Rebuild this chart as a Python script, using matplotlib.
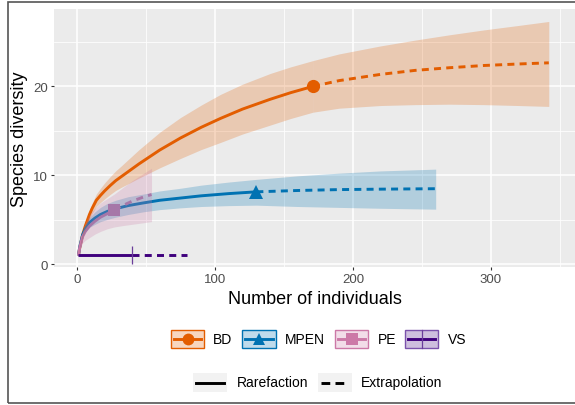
import matplotlib
matplotlib.use("Agg")
import matplotlib.pyplot as plt
from matplotlib.patches import Rectangle
from matplotlib.lines import Line2D

plt.rcParams['font.family'] = ['Liberation Sans', 'DejaVu Sans']

W, H = 575, 406

# ---------------- data ----------------
sites = ["BD", "MPEN", "PE", "VS"]
colors = ["#E35D00", "#0072B2", "#CC79A7", "#3F007D"]
markers = ["o", "^", "s", "|"]

# BD
bd_rare_n = [1, 2, 4, 6, 9, 11, 14, 17, 20, 24, 28, 32, 45, 60, 75, 90, 104, 120, 140, 155, 171]
bd_rare_s = [1, 1.9, 3.3, 4.3, 5.6, 6.3, 7.2, 7.75, 8.25, 8.85, 9.4, 9.85, 11.3, 12.85, 14.2, 15.4, 16.4, 17.45, 18.55, 19.3, 20.0]
bd_rare_lo = [1, 1.8, 3.0, 3.9, 5.1, 5.7, 6.5, 6.95, 7.35, 7.85, 8.3, 8.65, 9.7, 10.85, 11.9, 12.9, 13.7, 14.65, 15.65, 16.4, 17.1]
bd_rare_hi = [1, 2.0, 3.6, 4.7, 6.1, 6.9, 7.9, 8.55, 9.15, 9.85, 10.5, 11.05, 12.9, 14.85, 16.5, 17.9, 19.1, 20.25, 21.45, 22.2, 22.9]
bd_ext_n = [171, 190, 220, 245, 270, 295, 320, 342]
bd_ext_s = [20.0, 20.65, 21.35, 21.8, 22.1, 22.35, 22.52, 22.65]
bd_ext_lo = [17.1, 17.55, 17.85, 17.95, 18.0, 17.95, 17.85, 17.75]
bd_ext_hi = [22.9, 23.65, 24.55, 25.2, 25.8, 26.35, 26.85, 27.3]

# MPEN
mp_rare_n = [1, 2, 4, 6, 9, 13, 17, 22, 28, 37, 48, 60, 75, 90, 110, 130]
mp_rare_s = [1, 2.0, 3.3, 4.0, 4.7, 5.2, 5.6, 5.95, 6.25, 6.6, 6.9, 7.2, 7.45, 7.7, 7.95, 8.15]
mp_rare_lo = [1, 1.9, 3.0, 3.6, 4.15, 4.5, 4.8, 5.05, 5.3, 5.6, 5.9, 6.15, 6.35, 6.5, 6.6, 6.65]
mp_rare_hi = [1, 2.1, 3.6, 4.4, 5.25, 5.9, 6.4, 6.85, 7.2, 7.6, 7.9, 8.25, 8.55, 8.9, 9.25, 9.55]
mp_ext_n = [130, 160, 190, 220, 260]
mp_ext_s = [8.15, 8.3, 8.4, 8.45, 8.5]
mp_ext_lo = [6.65, 6.5, 6.4, 6.3, 6.2]
mp_ext_hi = [9.55, 9.95, 10.25, 10.5, 10.7]

# PE
pe_rare_n = [1, 2, 4, 6, 9, 13, 17, 22, 27]
pe_rare_s = [1, 1.9, 3.1, 3.7, 4.3, 4.85, 5.3, 5.7, 6.1]
pe_rare_lo = [1, 1.7, 2.4, 2.7, 3.0, 3.4, 3.7, 4.0, 4.2]
pe_rare_hi = [1, 2.1, 3.8, 4.7, 5.6, 6.3, 6.9, 7.4, 7.9]
pe_ext_n = [27, 33, 40, 47, 54]
pe_ext_s = [6.1, 6.6, 7.1, 7.5, 7.85]
pe_ext_lo = [4.2, 4.35, 4.5, 4.65, 4.8]
pe_ext_hi = [7.9, 8.6, 9.4, 10.1, 10.8]

# VS
vs_rare_n = [1, 40]
vs_rare_s = [1, 1]
vs_ext_n = [40, 80]
vs_ext_s = [1, 1]

x_ticks = [0, 100, 200, 300]
y_ticks = [0, 10, 20]

# ---------------- figure ----------------
fig = plt.figure(figsize=(W / 100, H / 100), dpi=100)
fig.patch.set_facecolor("white")

def fx(x):
    return x / W

def fy(y):
    return 1 - y / H

ax = fig.add_axes([fx(54), fy(268), fx(575) - fx(54), fy(10) - fy(268)])
ax.set_facecolor("#EBEBEB")
for s in ax.spines.values():
    s.set_visible(False)
ax.set_xlim(-16.7, 361)
ax.set_ylim(-0.3, 28.7)
ax.set_xticks(x_ticks)
ax.set_yticks(y_ticks)
ax.set_xticks([50, 150, 250, 350], minor=True)
ax.set_yticks([5, 15, 25], minor=True)
ax.grid(which="major", color="white", lw=1.1)
ax.grid(which="minor", color="white", lw=0.55)
ax.set_axisbelow(True)
ax.tick_params(which="major", length=2.5, width=0.8, color="#333333",
               labelsize=9.5, labelcolor="#4D4D4D", pad=2)
ax.tick_params(which="minor", length=0)

lw = 2.1
dash = (0, (2.4, 1.8))

series = [
    (bd_rare_n, bd_rare_s, bd_rare_lo, bd_rare_hi, bd_ext_n, bd_ext_s, bd_ext_lo, bd_ext_hi),
    (mp_rare_n, mp_rare_s, mp_rare_lo, mp_rare_hi, mp_ext_n, mp_ext_s, mp_ext_lo, mp_ext_hi),
    (pe_rare_n, pe_rare_s, pe_rare_lo, pe_rare_hi, pe_ext_n, pe_ext_s, pe_ext_lo, pe_ext_hi),
    (vs_rare_n, vs_rare_s, None, None, vs_ext_n, vs_ext_s, None, None),
]

for i, (rn, rs, rl, rh, en, es, el, eh) in enumerate(series):
    c = colors[i]
    ax.plot(rn, rs, color=c, lw=lw, solid_capstyle="butt", solid_joinstyle="round", zorder=3)
    ax.plot(en, es, color=c, lw=lw, linestyle=dash, zorder=3)
    if markers[i] == "|":
        ax.plot([rn[-1]], [rs[-1]], marker="|", ms=13, mew=0.9, color="#6A3D9A", zorder=4)
    else:
        ms = {"o": 9.5, "^": 10, "s": 9}[markers[i]]
        ax.plot([rn[-1]], [rs[-1]], marker=markers[i], ms=ms, color=c, mew=0, zorder=4)

for i, (rn, rs, rl, rh, en, es, el, eh) in enumerate(series):
    if rl is None:
        continue
    c = colors[i]
    ax.fill_between(rn, rl, rh, color=c, alpha=0.24, lw=0, zorder=5)
    ax.fill_between(en, el, eh, color=c, alpha=0.24, lw=0, zorder=5)

# axis titles
fig.text(fx(315), fy(299), "Number of individuals", ha="center", va="center", fontsize=13)
fig.text(fx(20), fy(139), "Species diversity", ha="center", va="center", fontsize=13, rotation=90)

# legend 1
leg_boxes = [(171, 204, 213), (242, 276, 285), (335, 368, 378), (405, 438, 448)]
yc = 340
for i, (x0, x1, xt) in enumerate(leg_boxes):
    c = colors[i]
    rect = Rectangle((fx(x0), fy(349)), fx(x1) - fx(x0), fy(331) - fy(349),
                     transform=fig.transFigure, facecolor=c, alpha=0.25, lw=0)
    fig.add_artist(rect)
    edge_c = "#7B52AB" if i == 3 else c
    rect2 = Rectangle((fx(x0), fy(349)), fx(x1) - fx(x0), fy(331) - fy(349),
                      transform=fig.transFigure, facecolor="none", edgecolor=edge_c, lw=1.0)
    fig.add_artist(rect2)
    fig.add_artist(Line2D([fx(x0 + 3), fx(x1 - 3)], [fy(yc), fy(yc)], transform=fig.transFigure,
                          color=c, lw=lw))
    if markers[i] == "|":
        fig.add_artist(Line2D([fx((x0 + x1) / 2)] * 2, [fy(331), fy(349)], transform=fig.transFigure,
                              color="#6A3D9A", lw=0.9))
    else:
        fig.add_artist(Line2D([fx((x0 + x1) / 2)], [fy(yc)], transform=fig.transFigure,
                              marker=markers[i], ms=8.5, color=c, mew=0))
    fig.text(fx(xt), fy(yc), sites[i], ha="left", va="center", fontsize=10)

# legend 2
yc2 = 383.5
for (x0, x1, xt, label, ls) in [(193, 227, 237, "Rarefaction", "-"),
                                (318, 352, 361, "Extrapolation", (0, (3.0, 1.8, 3.0, 1.8, 0.6, 1.8)))]:
    rect = Rectangle((fx(x0), fy(393)), fx(x1) - fx(x0), fy(374) - fy(393),
                     transform=fig.transFigure, facecolor="#F2F2F2", lw=0)
    fig.add_artist(rect)
    fig.add_artist(Line2D([fx(x0 + 3), fx(x1 - 3)], [fy(yc2), fy(yc2)], transform=fig.transFigure,
                          color="black", lw=lw, linestyle=ls))
    fig.text(fx(xt), fy(yc2), label, ha="left", va="center", fontsize=10)

# outer border (cropped on the right)
border = Rectangle((fx(8), fy(404)), 1.2, fy(3) - fy(404), transform=fig.transFigure,
                   facecolor="none", edgecolor="#555555", lw=1.2, clip_on=False)
fig.add_artist(border)

fig.savefig("out.png", dpi=100)
